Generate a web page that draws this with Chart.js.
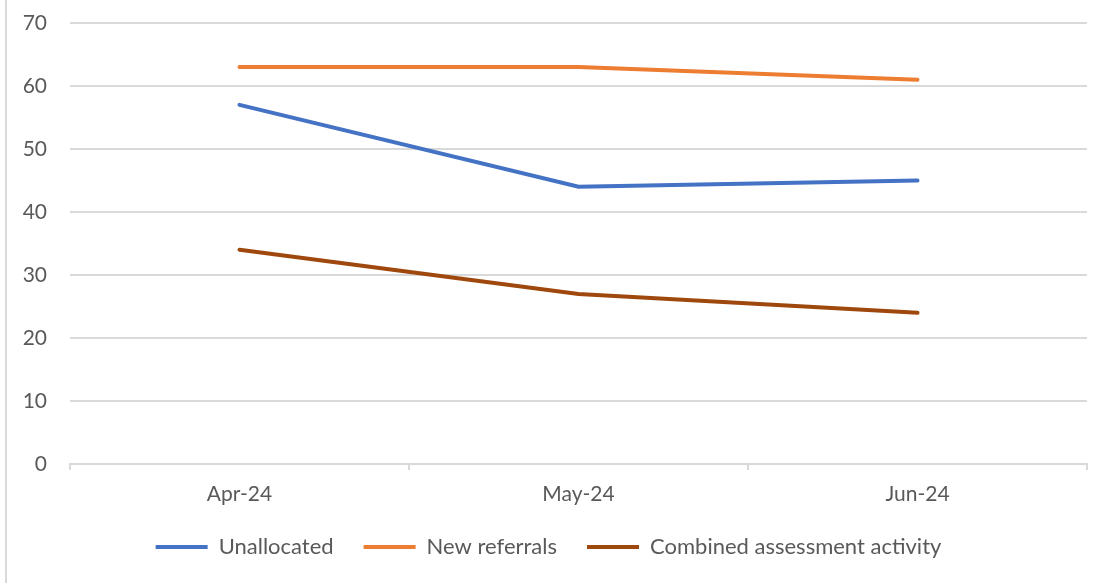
<!DOCTYPE html>
<html>
<head>
<meta charset="utf-8">
<script src="https://cdn.jsdelivr.net/npm/chart.js@4/dist/chart.umd.min.js"></script>
<style>
    body { margin: 0; background: #fff; }
    #wrap { position: relative; width: 1107px; height: 583px; }
    #frame { position: absolute; left: 5px; top: 0; width: 2px; height: 583px; background: #d9d9d9; }
    canvas { position: absolute; left: 0; top: 0; }
</style>
</head>
<body>
<div id="wrap">
    <canvas id="trendChart" width="1107" height="583"></canvas>
    <div id="frame"></div>
</div>
<script>
// Chart data
const months = ["Apr-24", "May-24", "Jun-24"];
const unallocated = [57, 44, 45];
const newReferrals = [63, 63, 61];
const combinedActivity = [34, 27, 24];

const gridColor = "#d9d9d9";
const textColor = "#595959";
const fontFamily = "Lato, 'Open Sans', sans-serif";

function makeSeries(label, data, color) {
    return {
        label: label,
        data: data,
        borderColor: color,
        backgroundColor: color,
        borderWidth: 4,
        borderCapStyle: "round",
        pointRadius: 0,
        pointHoverRadius: 0,
        tension: 0,
        fill: false
    };
}

const ctx = document.getElementById("trendChart").getContext("2d");

new Chart(ctx, {
    type: "line",
    data: {
        labels: months,
        datasets: [
            makeSeries("Unallocated", unallocated, "#4472c4"),
            makeSeries("New referrals", newReferrals, "#ed7d31"),
            makeSeries("Combined assessment activity", combinedActivity, "#9e480e")
        ]
    },
    options: {
        responsive: false,
        animation: false,
        layout: {
            padding: { top: 23, right: 20, bottom: 15, left: 10 }
        },
        plugins: {
            tooltip: { enabled: false },
            legend: {
                display: true,
                position: "bottom",
                labels: {
                    usePointStyle: true,
                    pointStyle: "line",
                    pointStyleWidth: 52,
                    boxHeight: 22,
                    padding: 30,
                    color: textColor,
                    font: { family: fontFamily, size: 22 }
                }
            }
        },
        scales: {
            x: {
                offset: true,
                grid: {
                    offset: true,
                    drawOnChartArea: false,
                    drawTicks: true,
                    tickLength: 6,
                    color: gridColor,
                    lineWidth: 2
                },
                border: { display: true, color: gridColor, width: 2 },
                ticks: {
                    color: textColor,
                    padding: 12,
                    font: { family: fontFamily, size: 21 }
                },
                afterFit: function (scale) {
                    scale.height = 42; // keep the gap to the legend tight
                }
            },
            y: {
                min: 0,
                max: 70,
                ticks: {
                    stepSize: 10,
                    color: textColor,
                    padding: 23,
                    font: { family: fontFamily, size: 21 }
                },
                grid: {
                    color: gridColor,
                    lineWidth: 2,
                    drawTicks: false
                },
                border: { display: false },
                afterFit: function (scale) {
                    scale.width = 60; // plot area starts near x=70
                    scale.paddingTop = 0;
                    scale.paddingBottom = 0;
                }
            }
        }
    }
});
</script>
</body>
</html>
